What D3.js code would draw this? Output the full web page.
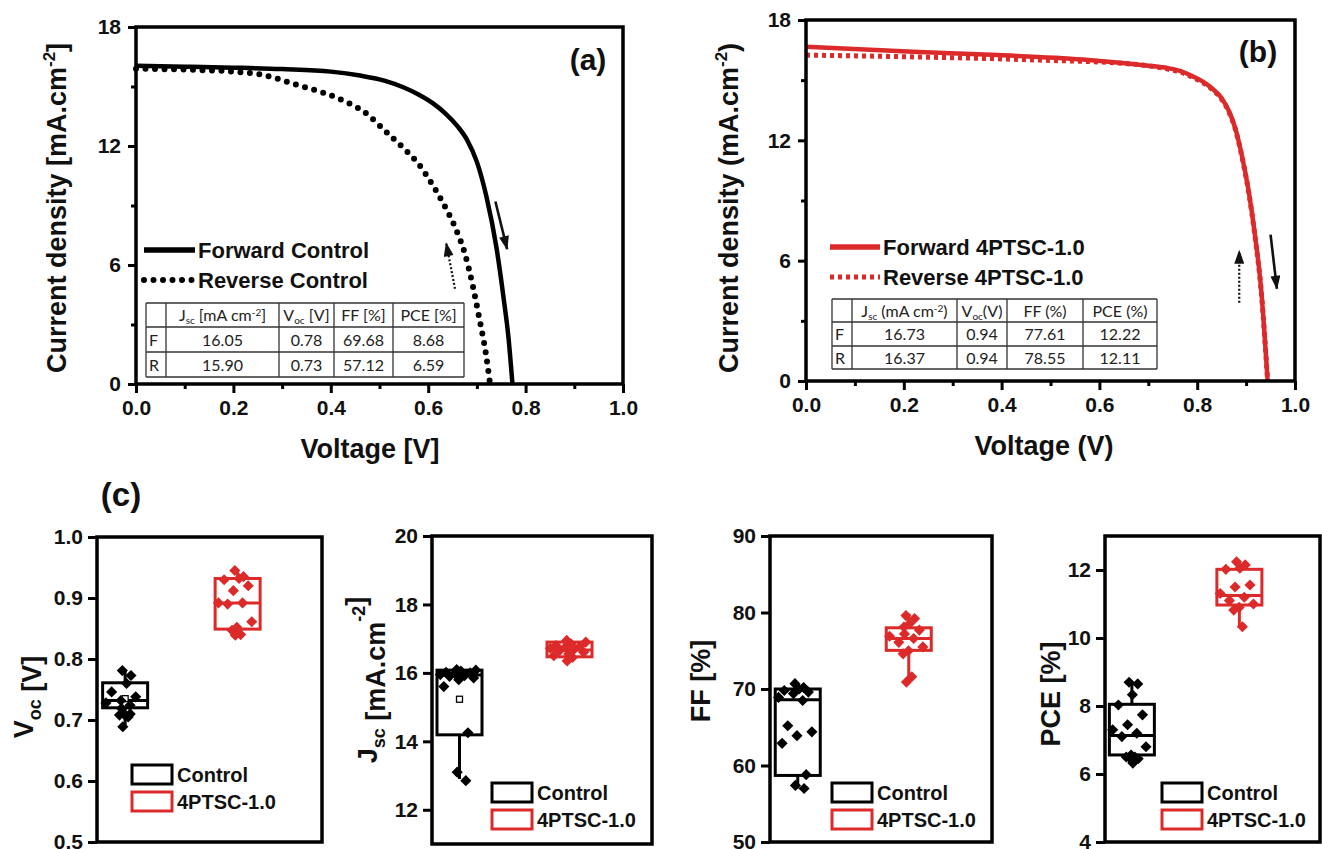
<!DOCTYPE html>
<head>
  <meta charset="utf-8">
  <script src="https://d3js.org/d3.v7.min.js"></script>
  <style>
    body { margin: 0; background: #fff; }
    text { font-family: "Liberation Sans", Arial, sans-serif; font-weight: bold; fill: #111; }
    .tbl text { font-family: "Lato", "Open Sans", sans-serif; font-weight: normal; font-size: 16px; fill: #222; }
  </style>
</head>
<body>
  <svg width="1322" height="849"></svg>
  <script>
    // ---- J-V data (a) control
    var fwdA_V = [0, 0.1, 0.2, 0.3, 0.4, 0.46, 0.51, 0.55, 0.58, 0.61, 0.635, 0.66, 0.68, 0.70, 0.72, 0.74, 0.755, 0.765, 0.773];
    var fwdA_J = [16.05, 16.0, 15.95, 15.88, 15.75, 15.55, 15.3, 14.95, 14.6, 14.15, 13.65, 13.0, 12.3, 11.2, 9.4, 6.9, 4.3, 2.3, 0];
    var revA_V = [0, 0.1, 0.2, 0.258, 0.328, 0.415, 0.475, 0.51, 0.553, 0.58, 0.605, 0.631, 0.657, 0.675, 0.692, 0.705, 0.718, 0.727];
    var revA_J = [15.9, 15.85, 15.75, 15.6, 15.1, 14.4, 13.6, 12.8, 11.8, 11.1, 10.2, 9.1, 7.8, 6.6, 4.9, 3.3, 1.6, 0];
    // ---- J-V data (b) 4PTSC-1.0
    var fwdB_V = [0, 0.219, 0.392, 0.566, 0.70, 0.74, 0.77, 0.79, 0.81, 0.83, 0.85, 0.865, 0.878, 0.89, 0.905, 0.918, 0.931, 0.944];
    var fwdB_J = [16.67, 16.42, 16.25, 16.03, 15.72, 15.6, 15.42, 15.2, 14.95, 14.6, 14.1, 13.45, 12.6, 11.4, 9.5, 7.3, 4.5, 0];
    var revB_V = [0, 0.2, 0.479, 0.653, 0.74, 0.77, 0.79, 0.81, 0.83, 0.85, 0.865, 0.878, 0.89, 0.905, 0.918, 0.931, 0.944];
    var revB_J = [16.25, 16.17, 16.0, 15.83, 15.55, 15.37, 15.15, 14.9, 14.55, 14.05, 13.4, 12.55, 11.35, 9.45, 7.25, 4.45, 0];

    // arrows [v0, j0, v1, j1, dotted]
    var arrowsA = [[0.738, 9.2, 0.762, 6.8, false], [0.655, 4.8, 0.637, 7.1, true]];
    var arrowsB = [[0.886, 3.9, 0.886, 6.5, true], [0.950, 7.3, 0.963, 4.6, false]];

    var voltTicks = [0, 0.2, 0.4, 0.6, 0.8, 1.0];
    var voltMinor = [0.1, 0.3, 0.5, 0.7, 0.9];
    var jTicks = [0, 6, 12, 18];
    var jMinor = [3, 9, 15];

    var tableHeadA = ["", ["J", "sc", " [mA cm", "-2", "]"], ["V", "oc", " [V]"], "FF [%]", "PCE [%]"];
    var tableHeadB = ["", ["J", "sc", " (mA cm", "-2", ")"], ["V", "oc", "(V)"], "FF (%)", "PCE (%)"];
    var tableRowsA = [["F", "16.05", "0.78", "69.68", "8.68"], ["R", "15.90", "0.73", "57.12", "6.59"]];
    var tableRowsB = [["F", "16.73", "0.94", "77.61", "12.22"], ["R", "16.37", "0.94", "78.55", "12.11"]];

    // ---- box plot data (c)
    var groups = ["Control", "4PTSC-1.0"];
    var vocControl = [0.781, 0.773, 0.76, 0.746, 0.738, 0.732, 0.728, 0.724, 0.719, 0.71, 0.708, 0.708, 0.705, 0.689];
    var vocRed = [0.945, 0.935, 0.932, 0.93, 0.92, 0.912, 0.892, 0.892, 0.89, 0.861, 0.852, 0.847, 0.84, 0.839];
    var jscControl = [16.1, 16.08, 16.05, 16.02, 16.0, 15.98, 15.95, 15.92, 15.9, 15.85, 15.8, 15.6, 14.25, 13.1, 12.85];
    var jscRed = [16.95, 16.9, 16.85, 16.8, 16.78, 16.75, 16.72, 16.7, 16.65, 16.6, 16.55, 16.5, 16.45, 16.35];
    var ffControl = [70.7, 70.2, 70.0, 69.8, 69.6, 69.4, 68.9, 68.5, 65.2, 64.4, 63.9, 62.9, 58.8, 57.4, 57.0];
    var ffRed = [79.6, 79.2, 78.5, 78.1, 77.7, 77.2, 76.9, 76.6, 76.1, 75.5, 75.0, 74.6, 71.6, 70.9];
    var pceControl = [8.7, 8.65, 8.33, 8.03, 7.74, 7.45, 7.3, 7.2, 7.1, 6.8, 6.56, 6.5, 6.5, 6.48, 6.45, 6.32];
    var pceRed = [12.24, 12.15, 12.05, 12.02, 11.56, 11.5, 11.31, 11.2, 11.1, 11.0, 10.9, 10.82, 10.33];
    // box stats [whiskerLow, q1, median, q3, whiskerHigh, mean]
    var vocStats = [[0.689, 0.72, 0.732, 0.761, 0.781, 0.735], [0.839, 0.849, 0.892, 0.932, 0.945, null]];
    var jscStats = [[12.9, 14.19, 15.94, 16.08, 16.1, 15.23], [16.35, 16.47, 16.67, 16.9, 16.95, null]];
    var ffStats = [[57.0, 58.7, 68.6, 70.0, 70.7, null], [70.7, 75.05, 76.6, 78.0, 79.85, null]];
    var pceStats = [[6.32, 6.56, 7.13, 8.05, 8.67, null], [10.33, 10.97, 11.25, 12.02, 12.24, null]];

    var RED = "#dc2a2a";
    var svg = d3.select("svg");

    var defs = svg.append("defs");
    defs.append("marker").attr("id", "headK")
      .attr("markerUnits", "userSpaceOnUse")
      .attr("viewBox", "0 0 14 10").attr("refX", 13).attr("refY", 5)
      .attr("markerWidth", 15).attr("markerHeight", 10).attr("orient", "auto")
      .append("path").attr("d", "M0,0 L14,5 L0,10 z").attr("fill", "#111");

    function zipPts(v, j) { return v.map(function (d, i) { return [d, j[i]]; }); }

    function jvPanel(c) {
      var x = d3.scaleLinear().domain([0, 1]).range([c.left, c.right]);
      var y = d3.scaleLinear().domain([0, 18]).range([c.bottom, c.top]);
      var g = svg.append("g");
      var line = d3.line().curve(d3.curveMonotoneX)
        .x(function (d) { return x(d[0]); }).y(function (d) { return y(d[1]); });

      g.append("path").datum(zipPts(c.revV, c.revJ)).attr("d", line)
        .attr("fill", "none").attr("stroke", c.color).attr("stroke-width", c.dotW)
        .attr("stroke-dasharray", c.dotDash).attr("stroke-linecap", c.dotCap);
      g.append("path").datum(zipPts(c.fwdV, c.fwdJ)).attr("d", line)
        .attr("fill", "none").attr("stroke", c.color).attr("stroke-width", c.lineW);

      c.arrows.forEach(function (a) {
        g.append("line").attr("x1", x(a[0])).attr("y1", y(a[1])).attr("x2", x(a[2])).attr("y2", y(a[3]))
          .attr("stroke", "#111").attr("stroke-width", a[4] ? 2.2 : 2.6)
          .attr("stroke-dasharray", a[4] ? "2 2" : null)
          .attr("marker-end", "url(#headK)");
      });

      // frame
      g.append("rect").attr("x", x(0)).attr("y", y(18)).attr("width", x(1) - x(0)).attr("height", y(0) - y(18))
        .attr("fill", "none").attr("stroke", "#000").attr("stroke-width", 3.5);

      var xa = g.append("g").attr("transform", "translate(0," + y(0) + ")")
        .call(d3.axisBottom(x).tickValues(voltTicks).tickSize(9).tickPadding(7).tickFormat(d3.format(".1f")));
      var xm = g.append("g").attr("transform", "translate(0," + y(0) + ")")
        .call(d3.axisBottom(x).tickValues(voltMinor).tickSize(5).tickFormat(""));
      var ya = g.append("g").attr("transform", "translate(" + x(0) + ",0)")
        .call(d3.axisLeft(y).tickValues(jTicks).tickSize(8).tickPadding(7).tickFormat(d3.format("d")));
      var ym = g.append("g").attr("transform", "translate(" + x(0) + ",0)")
        .call(d3.axisLeft(y).tickValues(jMinor).tickSize(5).tickFormat(""));
      [xa, xm, ya, ym].forEach(function (s) {
        s.select(".domain").remove();
        s.selectAll("line").attr("stroke", "#000").attr("stroke-width", 3);
        s.selectAll("text").attr("font-size", 21).attr("font-family", "Liberation Sans").attr("font-weight", "bold").attr("fill", "#111");
      });

      g.append("text").attr("x", c.xtX).attr("y", c.xtY).attr("text-anchor", "middle")
        .attr("font-size", 27).text(c.xTitle);
      var yt = g.append("text").attr("transform", "translate(" + c.ytX + "," + c.ytY + ") rotate(-90)")
        .attr("text-anchor", "middle").attr("font-size", 27);
      yt.append("tspan").text(c.yTitle[0]);
      yt.append("tspan").attr("font-size", 17).attr("dy", -11).text("-2");
      yt.append("tspan").attr("dy", 11).text(c.yTitle[1]);

      g.append("text").attr("x", c.tagX).attr("y", c.tagY).attr("text-anchor", "middle")
        .attr("font-size", 30).text(c.tag);

      // legend
      var lg = [[c.fwdName, c.lgY, false], [c.revName, c.lgY + 30, true]];
      lg.forEach(function (l) {
        g.append("line").attr("x1", c.lgX).attr("x2", c.lgX + c.lgLen).attr("y1", l[1]).attr("y2", l[1])
          .attr("stroke", c.color).attr("stroke-width", l[2] ? c.dotW : c.lineW + 1)
          .attr("stroke-dasharray", l[2] ? c.dotDash : null).attr("stroke-linecap", l[2] ? c.dotCap : null);
        g.append("text").attr("x", c.lgX + c.lgLen + 3).attr("y", l[1] + 8).attr("font-size", 22).text(l[0]);
      });

      // table
      var t = svg.append("g").attr("class", "tbl");
      var cols = c.tCols, rows = c.tRows;
      rows.forEach(function (ry) {
        t.append("line").attr("x1", cols[0]).attr("x2", cols[cols.length - 1]).attr("y1", ry).attr("y2", ry)
          .attr("stroke", "#333").attr("stroke-width", 1.3);
      });
      cols.forEach(function (cx) {
        t.append("line").attr("x1", cx).attr("x2", cx).attr("y1", rows[0]).attr("y2", rows[rows.length - 1])
          .attr("stroke", "#333").attr("stroke-width", 1.3);
      });
      function cellText(ci, ri, v) {
        var left = ci === 0;
        var tx = t.append("text")
          .attr("x", left ? cols[0] + 3 : (cols[ci] + cols[ci + 1]) / 2)
          .attr("y", (rows[ri] + rows[ri + 1]) / 2 + 6)
          .attr("text-anchor", left ? "start" : "middle");
        if (typeof v === "string") { tx.text(v); return; }
        tx.append("tspan").text(v[0]);
        tx.append("tspan").attr("font-size", 10).attr("dy", 3).text(v[1]);
        tx.append("tspan").attr("dy", -3).text(v[2]);
        if (v.length > 3) {
          tx.append("tspan").attr("font-size", 10).attr("dy", -5).text(v[3]);
          tx.append("tspan").attr("dy", 5).text(v[4]);
        }
      }
      c.tHead.forEach(function (h, ci) { cellText(ci, 0, h); });
      c.tBody.forEach(function (r, ri) { r.forEach(function (v, ci) { cellText(ci, ri + 1, v); }); });
    }

    jvPanel({
      left: 136, right: 623, top: 27, bottom: 384, color: "#000", lineW: 4.5, dotW: 6, dotDash: "0 9.5", dotCap: "round",
      fwdV: fwdA_V, fwdJ: fwdA_J, revV: revA_V, revJ: revA_J, arrows: arrowsA,
      xTitle: "Voltage [V]", xtX: 370, xtY: 458, yTitle: ["Current density [mA.cm", "]"], ytX: 66, ytY: 208,
      tag: "(a)", tagX: 588, tagY: 70,
      fwdName: "Forward Control", revName: "Reverse Control", lgX: 144, lgY: 250, lgLen: 51,
      tCols: [146, 166, 279, 334, 393, 464], tRows: [303, 327, 352, 377], tHead: tableHeadA, tBody: tableRowsA
    });
    jvPanel({
      left: 806, right: 1295, top: 20, bottom: 381, color: RED, lineW: 4.5, dotW: 5, dotDash: "4 4", dotCap: "butt",
      fwdV: fwdB_V, fwdJ: fwdB_J, revV: revB_V, revJ: revB_J, arrows: arrowsB,
      xTitle: "Voltage (V)", xtX: 1044, xtY: 455, yTitle: ["Current density (mA.cm", ")"], ytX: 738, ytY: 208,
      tag: "(b)", tagX: 1258, tagY: 62,
      fwdName: "Forward 4PTSC-1.0", revName: "Reverse 4PTSC-1.0", lgX: 830, lgY: 247, lgLen: 50,
      tCols: [832, 852, 957, 1007, 1083, 1157], tRows: [299, 322, 346, 369], tHead: tableHeadB, tBody: tableRowsB
    });

    svg.append("text").attr("x", 121).attr("y", 506).attr("text-anchor", "middle")
      .attr("font-family", "Open Sans").attr("font-weight", 700).attr("font-size", 33).text("(c)");

    function boxPanel(c) {
      var x = d3.scaleLinear().domain([0, 8]).range([c.left, c.right]);
      var y = d3.scaleLinear().domain(c.domain).range([c.bottom, c.top]);
      var g = svg.append("g");
      var colors = ["#000", RED];
      var bw = 45;
      [c.ctrl, c.red].forEach(function (vals, gi) {
        var cx = x(gi === 0 ? 1 : 5), s = c.stats[gi], col = colors[gi];
        g.append("line").attr("x1", cx).attr("x2", cx).attr("y1", y(s[0])).attr("y2", y(s[1]))
          .attr("stroke", col).attr("stroke-width", 3);
        g.append("line").attr("x1", cx).attr("x2", cx).attr("y1", y(s[3])).attr("y2", y(s[4]))
          .attr("stroke", col).attr("stroke-width", 3);
        g.append("rect").attr("x", cx - bw / 2).attr("y", y(s[3])).attr("width", bw).attr("height", y(s[1]) - y(s[3]))
          .attr("fill", "none").attr("stroke", col).attr("stroke-width", 3);
        g.append("line").attr("x1", cx - bw / 2).attr("x2", cx + bw / 2).attr("y1", y(s[2])).attr("y2", y(s[2]))
          .attr("stroke", col).attr("stroke-width", 3);
        if (s[5] != null) {
          g.append("rect").attr("x", cx - 3).attr("y", y(s[5]) - 3).attr("width", 6).attr("height", 6)
            .attr("fill", "#fff").attr("stroke", col).attr("stroke-width", 1.3);
        }
        g.selectAll(null).data(vals).enter().append("path")
          .attr("d", d3.symbol(d3.symbolSquare, 62))
          .attr("transform", function (d, i) {
            var inside = d >= s[1] && d <= s[3];
            var off = inside ? ((i * 0.618 + 0.3) % 1 - 0.5) * (bw - 6) : ((i * 0.618 + 0.3) % 1 - 0.5) * 14;
            return "translate(" + (cx + off) + "," + y(d) + ") rotate(45)";
          })
          .attr("fill", col);
      });

      g.append("rect").attr("x", c.left).attr("y", c.top).attr("width", c.right - c.left).attr("height", c.bottom - c.top)
        .attr("fill", "none").attr("stroke", "#000").attr("stroke-width", 3.5);
      var ya = g.append("g").attr("transform", "translate(" + c.left + ",0)")
        .call(d3.axisLeft(y).tickValues(c.ticks).tickSize(9).tickPadding(5).tickFormat(d3.format(c.fmt)));
      ya.select(".domain").remove();
      ya.selectAll("line").attr("stroke", "#000").attr("stroke-width", 3);
      ya.selectAll("text").attr("font-size", 21).attr("font-family", "Liberation Sans").attr("font-weight", "bold").attr("fill", "#111");

      var yt = g.append("text").attr("transform", "translate(" + c.tX + "," + c.tY + ") rotate(-90)")
        .attr("text-anchor", "middle").attr("font-size", 27);
      c.title.forEach(function (p) {
        var ts = yt.append("tspan").text(p[0]);
        if (p[1]) ts.attr("font-size", 18).attr("dy", p[1]);
      });

      groups.forEach(function (name, gi) {
        var ly = c.lgY + gi * 27;
        g.append("rect").attr("x", c.lgX).attr("y", ly).attr("width", 40).attr("height", 19)
          .attr("fill", "none").attr("stroke", colors[gi]).attr("stroke-width", 3);
        g.append("text").attr("x", c.lgX + 45).attr("y", ly + 17).attr("font-size", 20).text(name);
      });
    }

    boxPanel({
      left: 97, right: 322, top: 537, bottom: 842, domain: [0.5, 1.0], ticks: [0.5, 0.6, 0.7, 0.8, 0.9, 1.0], fmt: ".1f",
      ctrl: vocControl, red: vocRed, stats: vocStats, lgX: 132, lgY: 765, tX: 33, tY: 697,
      title: [["V"], ["oc", 8], [" [V]", null]]
    });
    boxPanel({
      left: 432, right: 652, top: 536, bottom: 844, domain: [11, 20], ticks: [12, 14, 16, 18, 20], fmt: "d",
      ctrl: jscControl, red: jscRed, stats: jscStats, lgX: 492, lgY: 783, tX: 377, tY: 680,
      title: [["J"], ["sc", 8], [" [mA.cm", null], ["-2", -20], ["]", null]]
    });
    boxPanel({
      left: 770, right: 992, top: 536, bottom: 842, domain: [50, 90], ticks: [50, 60, 70, 80, 90], fmt: "d",
      ctrl: ffControl, red: ffRed, stats: ffStats, lgX: 832, lgY: 783, tX: 710, tY: 681,
      title: [["FF [%]"]]
    });
    boxPanel({
      left: 1105, right: 1320, top: 536, bottom: 842, domain: [4, 13], ticks: [4, 6, 8, 10, 12], fmt: "d",
      ctrl: pceControl, red: pceRed, stats: pceStats, lgX: 1162, lgY: 783, tX: 1060, tY: 694,
      title: [["PCE [%]"]]
    });
  </script>
</body>
